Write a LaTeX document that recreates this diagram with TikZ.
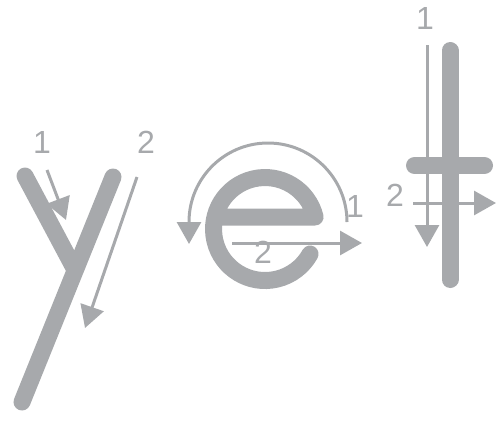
\documentclass[tikz,border=0pt]{standalone}
\usepackage{fontspec}
\setmainfont{Liberation Sans}
\usetikzlibrary{arrows.meta}
\definecolor{strokegray}{RGB}{167,169,172}
\tikzset{
  letter/.style={draw=strokegray, line width=17pt, line cap=round, line join=round},
  guide/.style={draw=strokegray, line width=3pt, -{Triangle[length=22pt,width=24pt]}},
  num/.style={text=strokegray, font=\fontsize{32}{32}\selectfont, inner sep=0pt, anchor=center}
}
\begin{document}
\begin{tikzpicture}[x=1pt,y=-1pt]
\useasboundingbox (0,0) rectangle (497,421);
% letter y
\draw[letter] (25,176) -- (74,268);
\draw[letter] (113,177) -- (22,402);
\draw[guide] (47,170) -- (66,220);
\draw[guide] (137,177) -- (85,328);
\node[num] (y1) at (42,142) {1};
\node[num] (y2) at (146,142) {2};
% letter e
\draw[letter] (215,217) -- (315.1,217) arc[start angle=-13.5, end angle=-331, radius=51.5];
\draw[guide] (347,222) arc[start angle=0, end angle=-180, radius=79] -- (189,244);
\draw[guide] (232,243) -- (362,243);
\node[num] (e1) at (355,206) {1};
\node[num] (e2) at (263,252) {2};
% letter t
\draw[letter] (450,50.5) -- (450,279.5);
\draw[letter] (414.5,165.5) -- (484.5,165.5);
\draw[guide] (427,45) -- (427,247);
\draw[guide] (413,203) -- (496,203);
\node[num] (t1) at (425,18) {1};
\node[num] (t2) at (395,195) {2};
\end{tikzpicture}
\end{document}
